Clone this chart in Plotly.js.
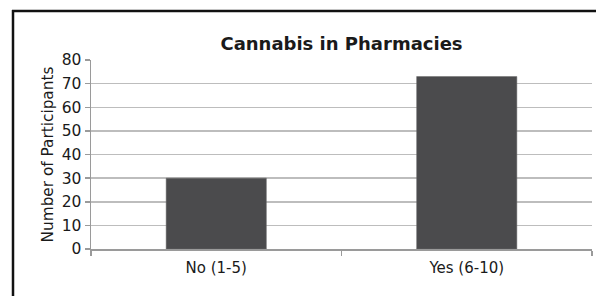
<!DOCTYPE html>
<html>
<head>
<meta charset="utf-8">
<script src="https://cdn.plot.ly/plotly-3.0.1.min.js"></script>
<style>
html,body{margin:0;padding:0;background:#fff;overflow:hidden;}
#chart{width:601px;height:296px;}
</style>
</head>
<body>
<div id="chart"></div>
<script>
const categories = ["No (1-5)", "Yes (6-10)"];
const participants = [30, 73];
const chartTitle = "Cannabis in Pharmacies";
const yAxisTitle = "Number of Participants";
const yTickValues = [0, 10, 20, 30, 40, 50, 60, 70, 80];

const font = "DejaVu Sans, Verdana, sans-serif";

const trace = {
  type: "bar",
  x: categories,
  y: participants,
  marker: {color: "#4b4b4d", line: {color: "#6a6a6a", width: 0.5}},
  hoverinfo: "x+y"
};

const px = v => (v - 91) / 501;
const py = v => (249 - v) / 189;

const layout = {
  width: 601,
  height: 296,
  margin: {l: 91, r: 9, t: 60, b: 47},
  paper_bgcolor: "#ffffff",
  plot_bgcolor: "#ffffff",
  showlegend: false,
  bargap: 0.6,
  font: {family: font, size: 15, color: "#1a1a1a"},
  title: {
    text: "<b>" + chartTitle + "</b>",
    font: {family: font, size: 18, color: "#1a1a1a"},
    x: 0.5, xref: "paper", xanchor: "center",
    y: 1 - 44/296, yref: "container", yanchor: "middle"
  },
  xaxis: {
    type: "category",
    showgrid: false,
    showline: true,
    linecolor: "#9a9a9a",
    linewidth: 1.5,
    ticks: "outside",
    tickson: "boundaries",
    ticklen: 5,
    tickcolor: "#9a9a9a",
    tickwidth: 1.5,
    ticklabelstandoff: 4,
    tickfont: {family: font, size: 15, color: "#1a1a1a"},
    zeroline: false
  },
  yaxis: {
    range: [0, 80],
    tickvals: yTickValues,
    showgrid: true,
    gridcolor: "#bdbdbd",
    gridwidth: 1.5,
    showline: true,
    linecolor: "#9a9a9a",
    linewidth: 1.5,
    ticks: "outside",
    ticklen: 5,
    tickcolor: "#9a9a9a",
    tickwidth: 1.5,
    tickfont: {family: font, size: 15.5, color: "#1a1a1a"},
    zeroline: false,
    title: {text: yAxisTitle, font: {family: font, size: 15.3, color: "#1a1a1a"}, standoff: 4}
  },
  shapes: [
    {type: "line", xref: "paper", yref: "paper",
     x0: px(13), x1: px(13), y0: py(296), y1: py(10),
     line: {color: "#111111", width: 2.5}, layer: "below"},
    {type: "line", xref: "paper", yref: "paper",
     x0: px(12), x1: px(596), y0: py(11), y1: py(11),
     line: {color: "#111111", width: 2.5}, layer: "below"}
  ]
};

Plotly.newPlot("chart", [trace], layout, {displayModeBar: false, staticPlot: true});
</script>
</body>
</html>
